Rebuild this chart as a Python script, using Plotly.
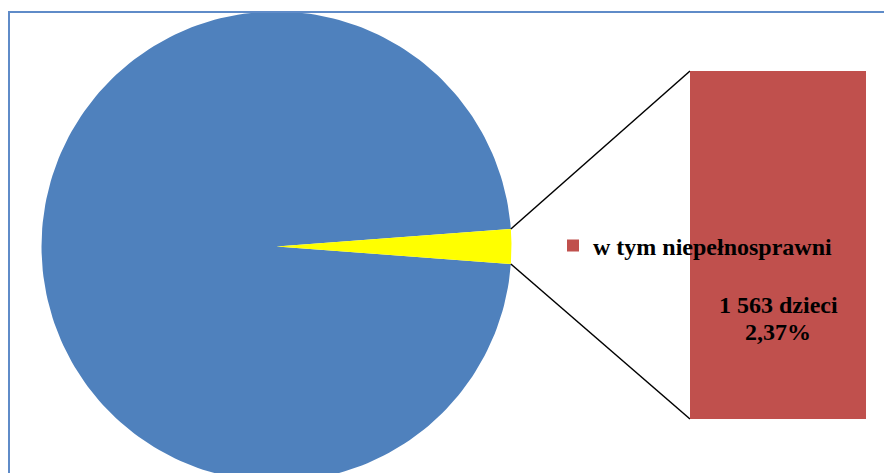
import math
from plotly import graph_objects as go

SEGMENTS = ['pozostałe dzieci', 'w tym niepełnosprawni']
SHARES = [97.63, 2.37]          # percent of all children
DISABLED_COUNT = 1563
SLICE_COLORS = ['#4F81BD', '#FFFF00']
BAR_COLOR = '#C0504D'

W, H = 884, 473
# pie geometry in screen pixels
CX, CY, R = 276.5, 246.5, 235
# bar box in screen pixels
BAR_X0, BAR_X1, BAR_Y0, BAR_Y1 = 690, 866, 71, 419
FONT = dict(family='Liberation Serif', size=24, color='black', weight='bold')


def sector(a0, a1, n=240):
    xs, ys = [CX], [CY]
    for i in range(n + 1):
        a = math.radians(a0 + (a1 - a0) * i / n)
        xs.append(CX + R * math.cos(a))
        ys.append(CY - R * math.sin(a))
    xs.append(CX)
    ys.append(CY)
    return xs, ys


fig = go.Figure()

# yellow slice centred on 0 deg, blue slice is the rest
half = SHARES[1] / 100 * 180
angles = [(half, 360 - half), (-half, half)]
for name, (a0, a1), color in zip(SEGMENTS, angles, SLICE_COLORS):
    xs, ys = sector(a0, a1)
    fig.add_trace(go.Scatter(
        x=xs, y=ys, fill='toself', fillcolor=color, mode='lines',
        line=dict(width=0, color=color), name=name, showlegend=False,
        hoverinfo='name',
    ))

# connector lines from slice edge to bar corners
for a, by in [(half, BAR_Y0), (-half, BAR_Y1)]:
    ex = CX + R * math.cos(math.radians(a))
    ey = CY - R * math.sin(math.radians(a))
    fig.add_trace(go.Scatter(
        x=[ex, BAR_X0], y=[ey, by], mode='lines',
        line=dict(color='black', width=1.5), showlegend=False, hoverinfo='skip',
    ))

# the breakdown bar
fig.add_trace(go.Bar(
    x=[SEGMENTS[1]], y=[SHARES[1]], name=SEGMENTS[1],
    marker=dict(color=BAR_COLOR, line=dict(width=0)), width=1,
    xaxis='x2', yaxis='y2', showlegend=True,
))

count_txt = f"{DISABLED_COUNT // 1000} {DISABLED_COUNT % 1000:03d} dzieci"
share_txt = f"{str(SHARES[1]).replace('.', ',')}%"

fig.update_layout(
    width=W, height=H,
    margin=dict(l=0, r=0, t=0, b=0),
    paper_bgcolor='white', plot_bgcolor='white',
    xaxis=dict(range=[0, W], visible=False, fixedrange=True),
    yaxis=dict(range=[H, 0], visible=False, fixedrange=True),
    xaxis2=dict(domain=[BAR_X0 / W, BAR_X1 / W], range=[-0.5, 0.5],
                visible=False, anchor='y2'),
    yaxis2=dict(domain=[1 - BAR_Y1 / H, 1 - BAR_Y0 / H], range=[0, SHARES[1]],
                visible=False, anchor='x2'),
    legend=dict(
        x=553 / W, y=1 - 246 / H, xanchor='left', yanchor='middle',
        bgcolor='rgba(0,0,0,0)', font=FONT,
    ),
    shapes=[dict(
        type='rect', xref='x', yref='y', x0=9, y0=12, x1=W + 30, y1=H + 30,
        line=dict(color='#5F8BC8', width=2), layer='above',
    )],
    annotations=[
        dict(xref='x2', yref='y', x=0, y=305, yanchor='middle', text=count_txt,
             showarrow=False, font=FONT),
        dict(xref='x2', yref='y', x=0, y=332, yanchor='middle', text=share_txt,
             showarrow=False, font=FONT),
    ],
)

# drop the default page margin so the figure sits at the window origin
fig.write_html("out.html", config={'displayModeBar': False},
               post_script="document.body.style.margin = '0';")
